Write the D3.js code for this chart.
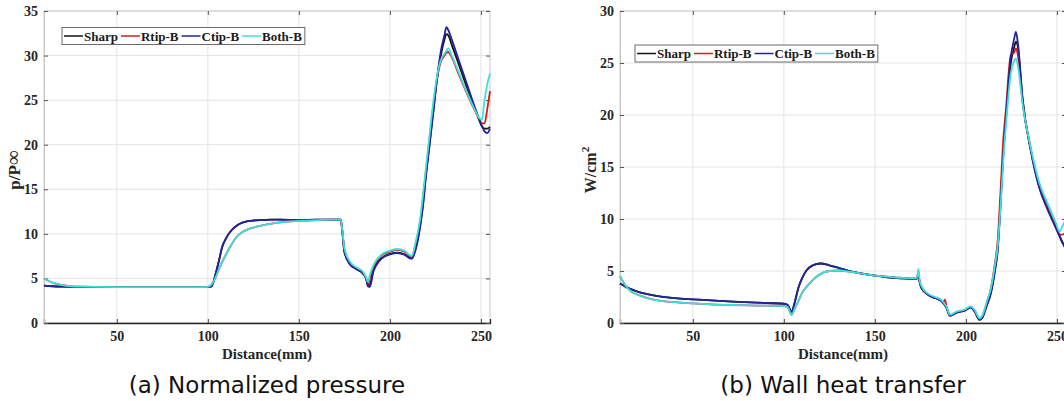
<!DOCTYPE html>
<html>
<head>
<meta charset="utf-8">
<script src="https://cdn.jsdelivr.net/npm/d3@7"></script>
<style>
  html, body { margin: 0; padding: 0; background: #fff; }
  svg { display: block; }
  .tick-label { font-family: "Liberation Serif", "Times New Roman", serif; font-weight: bold; font-size: 14px; fill: #262626; }
  .axis-title { font-family: "Liberation Serif", "Times New Roman", serif; font-weight: bold; font-size: 15px; fill: #262626; }
  .legend-text { font-family: "Liberation Serif", "Times New Roman", serif; font-weight: bold; font-size: 13px; fill: #1a1a1a; }
  .caption { font-family: "DejaVu Sans", Verdana, sans-serif; font-size: 23px; fill: #111; }
</style>
</head>
<body>
<svg id="fig" width="1064" height="401"></svg>
<script>
// ---- series names and colours ----
const seriesNames = ["Sharp", "Rtip-B", "Ctip-B", "Both-B"];
const seriesColors = ["#141414", "#d11f1f", "#23239a", "#40e0da"];

// ---- (a) normalized wall pressure p/P∞ along the surface ----
const pressDist = [10, 15, 20, 25, 30, 50, 75, 95, 100, 102, 104, 106, 108, 110, 113, 116, 119, 122, 125, 130, 135, 140, 150, 160, 170, 173, 174, 175, 178, 182, 185, 187, 188, 189, 191, 194, 197, 200, 204, 208, 211, 212, 214, 216.5, 218, 220, 222, 224, 226, 228, 230, 231, 232, 234, 238, 242, 246, 249, 250.5, 252, 253.5, 255];
const pressSharp = [4.2, 4.12, 4.08, 4.06, 4.05, 4.03, 4.02, 4.02, 4.03, 4.1, 5.3, 6.9, 8.6, 9.5, 10.4, 10.95, 11.25, 11.42, 11.5, 11.55, 11.6, 11.6, 11.55, 11.6, 11.6, 11.6, 10.0, 8.0, 6.6, 6.0, 5.6, 5.0, 4.2, 4.3, 6.0, 7.0, 7.5, 7.75, 7.9, 7.7, 7.3, 7.25, 8.3, 10.8, 13.0, 17.0, 20.5, 24.0, 27.5, 30.0, 31.8, 32.4, 32.3, 31.2, 28.9, 26.6, 24.4, 22.8, 22.1, 21.8, 21.8, 22.0];
const pressRtip = [5.0, 4.5, 4.25, 4.12, 4.07, 4.03, 4.02, 4.02, 4.05, 4.3, 5.0, 6.0, 6.9, 7.7, 8.8, 9.7, 10.2, 10.5, 10.7, 10.95, 11.15, 11.3, 11.45, 11.55, 11.6, 11.6, 10.1, 8.3, 6.8, 6.1, 5.7, 5.0, 4.3, 5.0, 6.3, 7.3, 7.8, 8.0, 8.2, 8.0, 7.5, 7.4, 8.7, 11.2, 13.6, 17.4, 21.0, 24.6, 27.5, 29.3, 30.0, 30.3, 30.4, 29.8, 27.8, 25.9, 24.1, 22.9, 22.4, 22.4, 24.0, 26.0];
const pressCtip = [4.2, 4.12, 4.08, 4.06, 4.05, 4.03, 4.02, 4.02, 4.03, 4.1, 5.3, 6.9, 8.6, 9.5, 10.4, 10.95, 11.25, 11.42, 11.5, 11.55, 11.6, 11.6, 11.55, 11.6, 11.6, 11.6, 10.0, 8.0, 6.6, 6.0, 5.6, 4.9, 4.1, 4.05, 5.8, 6.9, 7.45, 7.7, 7.85, 7.65, 7.25, 7.2, 8.1, 10.6, 12.8, 16.8, 20.3, 23.9, 27.6, 30.5, 32.3, 33.2, 32.9, 31.8, 29.4, 27.0, 24.6, 22.9, 22.1, 21.5, 21.3, 21.8];
const pressBoth = [5.0, 4.5, 4.25, 4.12, 4.07, 4.03, 4.02, 4.02, 4.05, 4.3, 5.0, 6.0, 6.9, 7.7, 8.8, 9.7, 10.2, 10.5, 10.7, 10.95, 11.15, 11.3, 11.45, 11.55, 11.6, 11.6, 10.2, 8.4, 6.9, 6.2, 5.8, 5.1, 4.6, 5.4, 6.5, 7.4, 7.9, 8.1, 8.3, 8.1, 7.6, 7.5, 8.9, 11.5, 14.0, 17.8, 21.5, 25.0, 27.8, 29.5, 30.2, 30.5, 30.8, 30.0, 28.0, 26.0, 24.2, 23.0, 22.8, 25.0, 26.8, 28.0];

// ---- (b) wall heat transfer, W/cm² ----
const heatDist = [10, 13, 16, 20, 25, 30, 40, 50, 60, 72, 85, 100, 102, 104.3, 106, 108, 110, 112.6, 116, 120, 125, 130, 136, 143, 150, 157, 164, 170, 173, 174, 174.5, 175.8, 179.4, 183, 185.8, 187.6, 188.5, 189.5, 191.2, 194.9, 199.5, 202.6, 205, 207.5, 209, 211.4, 213.7, 216, 217.4, 219, 220.5, 222, 224.7, 226.5, 227.5, 228.5, 231.2, 235.7, 240.3, 244.9, 249.5, 251.5, 253, 255];
const heatSharp = [3.8, 3.5, 3.25, 3.0, 2.78, 2.6, 2.4, 2.28, 2.18, 2.05, 1.95, 1.85, 1.75, 1.1, 2.0, 3.4, 4.3, 5.1, 5.55, 5.72, 5.55, 5.3, 5.0, 4.75, 4.55, 4.4, 4.3, 4.25, 4.25, 4.6, 4.0, 3.3, 2.7, 2.4, 2.2, 1.9, 1.7, 1.4, 0.7, 1.0, 1.2, 1.5, 1.05, 0.3, 0.5, 1.7, 2.9, 5.2, 7.0, 11.5, 16.2, 19.6, 25.0, 26.5, 27.05, 26.6, 21.4, 16.6, 13.1, 11.0, 9.2, 8.4, 7.8, 7.2];
const heatRtip = [4.5, 3.6, 3.05, 2.7, 2.4, 2.2, 2.0, 1.89, 1.8, 1.73, 1.68, 1.63, 1.55, 0.8, 1.4, 2.1, 2.9, 3.5, 4.15, 4.7, 5.0, 5.05, 4.95, 4.75, 4.55, 4.45, 4.35, 4.3, 4.3, 4.9, 4.1, 3.4, 2.75, 2.45, 2.25, 2.0, 2.25, 1.5, 0.75, 1.05, 1.25, 1.55, 1.15, 0.4, 0.65, 1.9, 3.3, 5.8, 7.8, 12.5, 17.5, 20.5, 25.8, 26.0, 26.4, 25.8, 21.2, 16.7, 13.3, 11.2, 9.4, 8.5, 8.5, 8.8];
const heatCtip = [3.8, 3.5, 3.25, 3.0, 2.78, 2.6, 2.4, 2.28, 2.18, 2.05, 1.95, 1.85, 1.75, 1.1, 2.0, 3.4, 4.3, 5.1, 5.55, 5.72, 5.55, 5.3, 5.0, 4.75, 4.55, 4.4, 4.3, 4.25, 4.25, 4.6, 4.0, 3.3, 2.7, 2.4, 2.2, 1.9, 1.7, 1.4, 0.7, 1.0, 1.2, 1.5, 1.05, 0.3, 0.5, 1.6, 2.8, 5.0, 6.8, 11.2, 16.0, 19.8, 25.6, 27.3, 28.0, 27.0, 21.5, 16.5, 13.0, 10.9, 9.1, 8.3, 7.7, 7.1];
const heatBoth = [4.5, 3.6, 3.05, 2.7, 2.4, 2.2, 2.0, 1.89, 1.8, 1.73, 1.68, 1.63, 1.55, 0.75, 1.4, 2.1, 2.9, 3.5, 4.15, 4.7, 5.0, 5.05, 4.95, 4.75, 4.55, 4.45, 4.35, 4.3, 4.3, 5.2, 4.2, 3.5, 2.8, 2.5, 2.3, 2.0, 1.8, 1.5, 0.8, 1.1, 1.3, 1.6, 1.2, 0.45, 0.7, 2.0, 3.3, 5.6, 7.3, 11.0, 15.5, 19.0, 24.0, 25.2, 25.45, 24.8, 21.0, 16.8, 13.5, 11.5, 9.6, 8.8, 9.3, 10.0];

// ---- axis ticks ----
const xTicks = [50, 100, 150, 200, 250];
const pressTicks = [0, 5, 10, 15, 20, 25, 30, 35];
const heatTicks = [0, 5, 10, 15, 20, 25, 30];

const svg = d3.select("#fig");

function drawPanel(opts) {
  const { left, right, top, bottom, xDomain, yDomain, yTicks, dist, series, legendPos, caption, yTitle } = opts;
  const x = d3.scaleLinear().domain(xDomain).range([left, right]);
  const y = d3.scaleLinear().domain(yDomain).range([bottom, top]);
  const g = svg.append("g");

  // grid
  g.append("g").selectAll("line").data(xTicks).join("line")
    .attr("x1", d => x(d)).attr("x2", d => x(d)).attr("y1", top).attr("y2", bottom)
    .attr("stroke", "#e4e4e4").attr("stroke-width", 1);
  g.append("g").selectAll("line").data(yTicks).join("line")
    .attr("x1", left).attr("x2", right).attr("y1", d => y(d)).attr("y2", d => y(d))
    .attr("stroke", "#e4e4e4").attr("stroke-width", 1);

  // box (light frame)
  g.append("rect").attr("x", left).attr("y", top).attr("width", right - left).attr("height", bottom - top)
    .attr("fill", "none").attr("stroke", "#c9c9c9").attr("stroke-width", 1);

  // axes from D3 (ticks inward, MATLAB style)
  const xAxis = d3.axisBottom(x).tickValues(xTicks).tickSize(-4).tickPadding(8).tickFormat(d3.format("d"));
  const xa = g.append("g").attr("transform", `translate(0,${bottom})`).call(xAxis);
  xa.select(".domain").attr("stroke", "#262626").attr("stroke-width", 1.3);
  xa.selectAll(".tick line").attr("stroke", "#444");
  xa.selectAll(".tick text").attr("class", "tick-label").attr("dy", "0.72em").attr("y", 8);

  const xTop = d3.axisTop(x).tickValues(xTicks).tickSize(-4).tickFormat("");
  const xt = g.append("g").attr("transform", `translate(0,${top})`).call(xTop);
  xt.select(".domain").remove();
  xt.selectAll(".tick line").attr("stroke", "#555");

  const yAxis = d3.axisLeft(y).tickValues(yTicks).tickSize(-4).tickPadding(6).tickFormat(d3.format("d"));
  const ya = g.append("g").attr("transform", `translate(${left},0)`).call(yAxis);
  ya.select(".domain").attr("stroke", "#c9c9c9");
  ya.selectAll(".tick line").attr("stroke", "#555");
  ya.selectAll(".tick text").attr("class", "tick-label");

  const yRight = d3.axisRight(y).tickValues(yTicks).tickSize(-4).tickFormat("");
  const yr = g.append("g").attr("transform", `translate(${right},0)`).call(yRight);
  yr.select(".domain").remove();
  yr.selectAll(".tick line").attr("stroke", "#555");

  // curves
  const line = d3.line().x((d, i) => x(dist[i])).y(d => y(d)).curve(d3.curveMonotoneX);
  series.forEach((vals, k) => {
    g.append("path").datum(vals).attr("d", line)
      .attr("fill", "none").attr("stroke", seriesColors[k]).attr("stroke-width", 1.8)
      .attr("stroke-linejoin", "round");
  });

  // axis titles
  g.append("text").attr("class", "axis-title").attr("text-anchor", "middle")
    .attr("x", (left + Math.min(right, 1066)) / 2).attr("y", 359).text("Distance(mm)");
  const yt = g.append("text").attr("class", "axis-title").attr("text-anchor", "middle")
    .attr("transform", `translate(${yTitle.x},${yTitle.y}) rotate(-90)`);
  yTitle.build(yt);

  // legend
  const lg = g.append("g");
  const box = lg.append("rect").attr("x", legendPos.x).attr("y", legendPos.y)
    .attr("height", 17).attr("fill", "#fff").attr("stroke", "#6a6a6a").attr("stroke-width", 1);
  let cx = legendPos.x + 2;
  const cy = legendPos.y + 8.5;
  seriesNames.forEach((name, k) => {
    lg.append("line").attr("x1", cx).attr("x2", cx + 19).attr("y1", cy).attr("y2", cy)
      .attr("stroke", seriesColors[k]).attr("stroke-width", 1.5);
    cx += 20;
    const t = lg.append("text").attr("class", "legend-text").attr("x", cx).attr("y", cy + 4.5).text(name);
    cx += t.node().getComputedTextLength() + 3;
  });
  box.attr("width", cx - legendPos.x);

  // caption
  g.append("text").attr("class", "caption").attr("text-anchor", "middle")
    .attr("x", (left + right) / 2).attr("y", 393).text(caption);
}

drawPanel({
  left: 44, right: 490, top: 11, bottom: 323,
  xDomain: [10, 255], yDomain: [0, 35], yTicks: pressTicks,
  dist: pressDist, series: [pressSharp, pressRtip, pressCtip, pressBoth],
  legendPos: { x: 62, y: 27.5 },
  caption: "(a) Normalized pressure",
  yTitle: { x: 20, y: 170, build: t => { t.style("font-size", "17px"); t.append("tspan").text("p/P"); t.append("tspan").style("font-weight", "normal").style("font-size", "21px").text("∞"); } }
});

drawPanel({
  left: 620, right: 1066, top: 11, bottom: 323,
  xDomain: [10, 255], yDomain: [0, 30], yTicks: heatTicks,
  dist: heatDist, series: [heatSharp, heatRtip, heatCtip, heatBoth],
  legendPos: { x: 635, y: 45 },
  caption: "(b) Wall heat transfer",
  yTitle: { x: 596, y: 170, build: t => { t.style("font-size", "16px"); t.append("tspan").text("W/cm"); t.append("tspan").attr("dy", -7).style("font-size", "11px").text("2"); } }
});
</script>
</body>
</html>
